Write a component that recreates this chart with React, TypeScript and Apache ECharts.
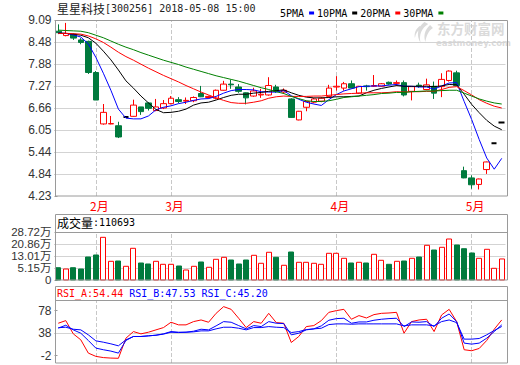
import React, { useEffect, useRef } from 'react';
import * as echarts from 'echarts';

// ---- data ----
const stockName = '星星科技';
const stockInfo = '[300256] 2018-05-08 15:00';
const monthCounts: [number, number][] = [[1, 5], [2, 10], [3, 22], [4, 18], [5, 5]];

const opens = [8.78, 8.66, 8.70, 8.54, 8.50, 7.64, 6.22, 6.22, 6.17, 6.41,
  6.43, 6.69, 6.80, 6.59, 6.66, 6.78, 6.89, 6.85, 6.86, 7.06,
  6.95, 6.93, 7.15, 7.32, 7.24, 7.08, 6.99, 7.02, 7.02, 7.24,
  7.10, 6.91, 6.33, 6.68, 6.82, 6.85, 6.98, 7.24, 7.21, 7.33,
  7.07, 7.27, 7.26, 7.26, 7.37, 7.34, 7.36, 7.12, 7.29, 7.17,
  7.26, 7.25, 7.42, 7.63, 4.93, 4.73, 4.55, 4.96, 5.69, 6.26];
const closes = [8.74, 8.72, 8.59, 8.47, 7.64, 6.88, 6.54, 6.23, 5.86, 6.41,
  6.74, 6.56, 6.65, 6.69, 6.78, 6.93, 6.84, 6.87, 6.95, 6.97,
  6.98, 7.15, 7.32, 7.30, 7.12, 6.94, 7.13, 7.04, 7.28, 7.12,
  7.15, 6.40, 6.57, 6.84, 6.91, 6.93, 7.21, 7.26, 7.33, 7.21,
  7.26, 7.25, 7.28, 7.33, 7.32, 7.36, 7.02, 7.25, 7.27, 7.30,
  7.07, 7.45, 7.68, 7.28, 4.73, 4.54, 4.70, 5.17, 5.69, 6.26];
const lows = [8.70, 8.64, 8.54, 8.42, 7.60, 6.88, 6.20, 6.21, 5.83, 6.41,
  6.42, 6.47, 6.59, 6.57, 6.63, 6.76, 6.79, 6.77, 6.82, 6.96,
  6.92, 6.90, 7.14, 7.19, 7.08, 6.76, 6.97, 6.94, 7.00, 7.08,
  7.05, 6.39, 6.32, 6.57, 6.79, 6.82, 6.97, 7.14, 7.14, 7.20,
  7.05, 7.14, 7.24, 7.25, 7.30, 7.27, 6.98, 6.87, 7.22, 7.15,
  6.91, 6.96, 7.39, 7.27, 4.72, 4.43, 4.41, 4.84, 5.69, 6.26];
const highs = [8.97, 9.01, 8.72, 8.59, 8.52, 7.68, 6.77, 6.44, 6.28, 6.41,
  6.89, 6.69, 6.82, 6.91, 6.88, 6.99, 6.96, 6.95, 6.98, 7.27,
  7.00, 7.17, 7.41, 7.44, 7.32, 7.09, 7.22, 7.19, 7.51, 7.30,
  7.20, 6.93, 6.58, 6.86, 6.94, 6.96, 7.30, 7.54, 7.38, 7.42,
  7.27, 7.30, 7.57, 7.35, 7.39, 7.42, 7.42, 7.26, 7.36, 7.47,
  7.39, 7.62, 7.70, 7.69, 5.04, 4.80, 4.71, 5.18, 5.69, 6.26];

const ma5 = [8.73, 8.72, 8.68, 8.62, 8.43, 8.06, 7.62, 7.15, 6.63, 6.38,
  6.36, 6.36, 6.44, 6.61, 6.68, 6.72, 6.78, 6.82, 6.87, 6.91,
  6.92, 6.98, 7.07, 7.14, 7.17, 7.17, 7.16, 7.11, 7.10, 7.10,
  7.14, 7.00, 6.90, 6.82, 6.77, 6.73, 6.89, 7.03, 7.13, 7.19,
  7.25, 7.26, 7.27, 7.27, 7.29, 7.31, 7.26, 7.26, 7.24, 7.24,
  7.18, 7.27, 7.35, 7.36, 6.84, 6.34, 5.79, 5.28, 4.97, 5.27];
const ma10 = [8.73, 8.72, 8.70, 8.67, 8.60, 8.45, 8.23, 7.99, 7.71, 7.41,
  7.21, 6.99, 6.80, 6.62, 6.53, 6.54, 6.57, 6.63, 6.74, 6.80,
  6.82, 6.88, 6.95, 7.01, 7.04, 7.04, 7.07, 7.09, 7.12, 7.14,
  7.16, 7.08, 7.01, 6.96, 6.94, 6.94, 6.95, 6.97, 6.97, 6.98,
  6.99, 7.08, 7.15, 7.20, 7.24, 7.28, 7.26, 7.26, 7.26, 7.26,
  7.25, 7.27, 7.31, 7.30, 7.04, 6.76, 6.53, 6.32, 6.16, 6.06];
const ma20 = [8.72, 8.72, 8.71, 8.70, 8.65, 8.57, 8.47, 8.34, 8.20, 8.08,
  7.98, 7.87, 7.76, 7.66, 7.56, 7.47, 7.38, 7.28, 7.19, 7.10,
  7.02, 6.94, 6.87, 6.81, 6.79, 6.79, 6.82, 6.86, 6.93, 6.97,
  6.99, 6.98, 6.98, 6.98, 6.99, 6.99, 7.01, 7.03, 7.05, 7.06,
  7.07, 7.08, 7.08, 7.08, 7.09, 7.11, 7.10, 7.11, 7.11, 7.12,
  7.12, 7.17, 7.23, 7.25, 7.14, 7.02, 6.89, 6.79, 6.71, 6.66];
const ma30 = [8.81, 8.80, 8.79, 8.78, 8.74, 8.67, 8.60, 8.51, 8.42, 8.34,
  8.27, 8.19, 8.12, 8.05, 7.98, 7.92, 7.86, 7.79, 7.73, 7.67,
  7.61, 7.55, 7.50, 7.45, 7.40, 7.34, 7.28, 7.22, 7.17, 7.11,
  7.06, 6.98, 6.92, 6.86, 6.84, 6.84, 6.86, 6.90, 6.95, 6.97,
  6.99, 7.01, 7.03, 7.06, 7.07, 7.09, 7.09, 7.11, 7.12, 7.13,
  7.13, 7.14, 7.15, 7.15, 7.07, 6.99, 6.91, 6.85, 6.80, 6.77];

// volume in 万 (10k lots)
const volumes = [5.34, 4.49, 5.34, 4.49, 12.35, 13.66, 25.24, 9.53, 9.73, 6.26,
  18.04, 8.42, 7.77, 9.53, 7.57, 7.57, 6.46, 3.84, 6.26, 9.08,
  5.61, 10.84, 12.15, 10.38, 7.77, 10.38, 13.46, 8.23, 15.43, 12.15,
  6.92, 15.62, 8.88, 8.88, 8.23, 7.57, 14.77, 14.77, 11.50, 8.42,
  8.88, 8.42, 14.12, 10.19, 7.57, 9.53, 9.73, 11.50, 12.35, 20.01,
  16.93, 18.70, 24.13, 20.20, 17.78, 14.97, 11.50, 17.39, 4.95, 11.0693];
const lastVolume = 110693;

const rsiA = [49.8, 53.5, 34.9, 26.5, 7.9, 3.3, 1.6, 0.9, 0.6, 28.8,
  38.1, 34.9, 37.2, 40.5, 43.7, 51.2, 47.5, 47.5, 52.1, 54.4,
  51.2, 63.7, 73.1, 69.3, 56.8, 43.7, 52.1, 49.8, 63.7, 50.7,
  49.8, 22.8, 31.2, 45.1, 46.5, 53.5, 65.1, 67.5, 69.3, 55.4,
  60.5, 57.2, 61.9, 63.7, 64.2, 65.1, 35.8, 52.1, 54.4, 55.4,
  38.1, 61.4, 69.3, 52.1, 12.6, 11.2, 14.4, 25.6, 41.4, 54.44];
const rsiB = [43.0, 47.0, 40.5, 35.8, 25.6, 14.9, 12.6, 10.7, 7.9, 25.6,
  31.2, 31.2, 32.1, 33.0, 34.9, 38.1, 37.2, 37.2, 38.6, 41.4,
  40.5, 46.1, 52.1, 51.2, 46.5, 41.9, 46.5, 45.1, 52.1, 49.8,
  49.3, 33.5, 35.8, 40.5, 41.9, 46.1, 54.0, 56.3, 56.8, 49.8,
  51.6, 51.6, 54.0, 55.4, 56.3, 56.8, 45.1, 51.6, 51.2, 52.1,
  45.1, 56.8, 62.8, 52.1, 21.9, 20.5, 21.9, 28.8, 38.1, 47.53];
const rsiC = [43.5, 44.2, 41.4, 40.5, 33.5, 25.1, 23.2, 20.9, 18.1, 26.5,
  31.2, 31.2, 32.1, 33.0, 34.5, 37.2, 36.7, 37.2, 37.7, 39.1,
  39.1, 41.9, 44.2, 44.2, 42.8, 40.5, 43.7, 43.7, 45.1, 44.2,
  43.7, 36.7, 38.1, 40.9, 41.9, 42.8, 47.9, 48.9, 48.9, 48.4,
  48.9, 48.9, 48.9, 48.9, 48.9, 48.9, 46.1, 47.5, 47.5, 47.5,
  46.1, 52.1, 54.4, 50.7, 27.5, 27.5, 28.4, 33.5, 39.6, 45.20];

const priceTicks = [4.23, 4.84, 5.44, 6.05, 6.66, 7.27, 7.88, 8.48, 9.09];
const volTicks = [-2.71, 5.15, 13.01, 20.86, 28.72];
const rsiTicks = [-2, 38, 78];
const maNames = ['5PMA', '10PMA', '20PMA', '30PMA'];

// ---- styles ----
const RED = '#ff0000';
const GREEN = '#007a3d';
const BLUE = '#0000ff';
const BORDER = '#9a9a9a';
const GRIDLINE = '#d3d3d3';
const WATER = '#dadada';
const SANS = 'Liberation Sans, Noto Sans CJK SC, sans-serif';
const MONO = 'DejaVu Sans Mono, monospace';
const CJK = 'Noto Sans CJK SC, sans-serif';

echarts.graphic.registerShape(
  'emLogo',
  echarts.graphic.extendPath(
    'M12 0 C5 5 3 13 8 21 C6 13 9 6 16 2 Z M18 3 C12 8 11 14 13 20 C14 14 16 9 21 6 Z M7 4 C3 7 1 11 2 16 C3 11 5 8 9 6 Z',
    {}
  )
);

const categories: string[] = [];
monthCounts.forEach(([m, n]) => {
  for (let k = 1; k <= n; k++) categories.push(`${m}-${k}`);
});
const monthStarts = categories.filter((c) => c.endsWith('-1') && !c.startsWith('1-'));

const isUp = (i: number) =>
  closes[i] > opens[i] || (closes[i] === opens[i] && (i === 0 || closes[i] >= closes[i - 1]));
const isFlat = (i: number) => opens[i] === closes[i] && highs[i] === lows[i];

const GL = 54.5;
const GW = 451;

function buildOption(): any {
  const monthLines = monthStarts.map((c) => ({
    xAxis: c,
    lineStyle: { type: 'dashed', color: '#c8c8c8', width: 1 },
  }));
  const hLines = (vals: number[]) =>
    vals.map((v) => ({ yAxis: v, lineStyle: { type: 'solid', color: GRIDLINE, width: 1 } }));
  const frame = (xi: number, yi: number, vals: number[]) => ({
    type: 'line',
    xAxisIndex: xi,
    yAxisIndex: yi,
    data: [],
    silent: true,
    z: 1,
    markLine: {
      silent: true,
      z: 1,
      symbol: ['none', 'none'],
      label: { show: false },
      animation: false,
      data: [...monthLines, ...hLines(vals)],
    },
  });
  const maLine = (name: string, data: number[], color: string) => ({
    name,
    type: 'line',
    xAxisIndex: 0,
    yAxisIndex: 0,
    data,
    color,
    showSymbol: false,
    symbol: 'none',
    z: 4,
    lineStyle: { width: 1, color },
  });
  const rsiLine = (data: number[], color: string) => ({
    type: 'line',
    xAxisIndex: 2,
    yAxisIndex: 3,
    data,
    showSymbol: false,
    symbol: 'none',
    z: 4,
    lineStyle: { width: 1, color },
  });
  const yLabel = {
    color: '#333',
    fontFamily: SANS,
    fontSize: 12,
    margin: 3,
  };
  const yTick = (vals: number[]) => ({
    show: true,
    inside: true,
    length: 3,
    customValues: vals,
    lineStyle: { color: BORDER },
  });
  const xHidden = (gi: number) => ({
    type: 'category',
    gridIndex: gi,
    data: categories,
    boundaryGap: true,
    axisLine: { show: false },
    axisTick: { show: false },
    axisLabel: { show: false },
    splitLine: { show: false },
  });

  return {
    animation: false,
    backgroundColor: '#fff',
    grid: [
      { left: GL, top: 20, width: GW, height: 176 },
      { left: GL, top: 232, width: GW, height: 48 },
      { left: GL, top: 301, width: GW, height: 62 },
    ],
    legend: {
      data: maNames,
      left: 275,
      top: 3,
      icon: 'rect',
      itemWidth: 5,
      itemHeight: 3,
      itemGap: 3,
      align: 'right',
      selectedMode: false,
      textStyle: { fontFamily: MONO, fontSize: 10, color: '#000' },
    },
    xAxis: [
      {
        type: 'category',
        gridIndex: 0,
        data: categories,
        boundaryGap: true,
        axisLine: { show: false },
        axisTick: { show: false },
        splitLine: { show: false },
        axisLabel: {
          interval: 0,
          color: RED,
          fontFamily: CJK,
          fontSize: 12,
          lineHeight: 12,
          margin: 3,
          padding: [0, 0, 0, 7],
          formatter: (v: string) => {
            const [m, k] = v.split('-');
            return k === '1' && m !== '1' ? `${m}月` : '';
          },
        },
      },
      xHidden(1),
      xHidden(2),
    ],
    yAxis: [
      {
        type: 'value',
        gridIndex: 0,
        min: priceTicks[0],
        max: priceTicks[priceTicks.length - 1],
        axisLine: { show: false },
        axisTick: yTick(priceTicks),
        splitLine: { show: false },
        axisLabel: { ...yLabel, lineHeight: 12, customValues: priceTicks, formatter: (v: number) => v.toFixed(2) },
      },
      {
        type: 'value',
        gridIndex: 1,
        min: volTicks[0],
        max: volTicks[volTicks.length - 1],
        axisLine: { show: false },
        axisTick: yTick(volTicks),
        splitLine: { show: false },
        axisLabel: {
          ...yLabel,
          fontSize: 11.5,
          lineHeight: 10,
          customValues: volTicks,
          formatter: (v: number) => (v <= volTicks[0] ? '0' : `${v.toFixed(2)}万`),
        },
      },
      {
        type: 'value',
        gridIndex: 2,
        min: -15,
        max: 95,
        axisLine: { show: false },
        axisTick: yTick(rsiTicks),
        splitLine: { show: false },
        axisLabel: { ...yLabel, lineHeight: 12, customValues: rsiTicks, formatter: (v: number) => `${v}` },
      },
      {
        type: 'value',
        gridIndex: 2,
        min: -6,
        max: 81,
        show: false,
        splitLine: { show: false },
      },
    ],
    series: [
      frame(0, 0, priceTicks.slice(1, -1)),
      frame(1, 1, volTicks.slice(1, -1)),
      frame(2, 2, [38]),
      {
        type: 'candlestick',
        xAxisIndex: 0,
        yAxisIndex: 0,
        barWidth: 6,
        z: 3,
        itemStyle: {
          color: '#ffffff',
          color0: GREEN,
          borderColor: RED,
          borderColor0: GREEN,
          borderWidth: 1,
        },
        data: opens.map((o, i) => {
          const v = [o, closes[i], lows[i], highs[i]];
          if (isFlat(i)) {
            return {
              value: v,
              itemStyle: { color: '#000', color0: '#000', borderColor: '#000', borderColor0: '#000', borderColorDoji: '#000', borderWidth: 2 },
            };
          }
          return v;
        }),
      },
      maLine(maNames[0], ma5, BLUE),
      maLine(maNames[1], ma10, '#000000'),
      maLine(maNames[2], ma20, RED),
      maLine(maNames[3], ma30, '#008000'),
      {
        type: 'custom',
        xAxisIndex: 1,
        yAxisIndex: 1,
        z: 3,
        encode: { x: 0, y: 1 },
        data: volumes.map((v, i) => [i, v, isUp(i) ? 1 : 0]),
        renderItem: (params: any, api: any) => {
          const i = api.value(0);
          const v = api.value(1);
          const up = api.value(2) === 1;
          const top = api.coord([i, v]);
          const base = api.coord([i, volTicks[0]]);
          const w = 6;
          const x = Math.round(top[0] - w / 2) + 0.5;
          return {
            type: 'rect',
            shape: { x, y: top[1], width: w - 1, height: base[1] - top[1] },
            style: up
              ? { fill: '#ffffff', stroke: RED, lineWidth: 1 }
              : { fill: GREEN, stroke: GREEN, lineWidth: 1 },
          };
        },
      },
      rsiLine(rsiA, RED),
      rsiLine(rsiB, BLUE),
      rsiLine(rsiC, BLUE),
    ],
    graphic: [
      {
        type: 'text',
        left: 57,
        top: 2,
        style: {
          text: `{a|${stockName}}{b|${stockInfo}}`,
          rich: {
            a: { fontFamily: CJK, fontSize: 12, fill: '#222' },
            b: { fontFamily: MONO, fontSize: 10, fill: '#222' },
          },
        },
      },
      {
        type: 'group',
        z: 0,
        children: [
          {
            type: 'emLogo',
            x: 413,
            y: 22,
            scaleX: 0.95,
            scaleY: 1,
            style: { fill: WATER, stroke: 'none' },
          },
          {
            type: 'text',
            x: 437,
            y: 21,
            style: { text: '东方财富网', fontFamily: CJK, fontSize: 13.5, lineHeight: 14, fontWeight: 'bold', fill: WATER },
          },
          {
            type: 'text',
            x: 436,
            y: 39,
            style: { text: 'eastmoney.com', fontFamily: 'DejaVu Sans, sans-serif', fontSize: 8.5, lineHeight: 8, fontWeight: 'bold', fill: WATER },
          },
        ],
      },
      // panel frames
      { type: 'rect', z: 10, shape: { x: 55.5, y: 20.5, width: 452, height: 175.5 }, style: { fill: 'none', stroke: BORDER, lineWidth: 1 } },
      { type: 'rect', z: 10, shape: { x: 55.5, y: 214.5, width: 452, height: 65.5 }, style: { fill: 'none', stroke: BORDER, lineWidth: 1 } },
      { type: 'line', z: 10, shape: { x1: 55.5, y1: 232.5, x2: 507.5, y2: 232.5 }, style: { stroke: BORDER, lineWidth: 1 } },
      { type: 'rect', z: 10, shape: { x: 55.5, y: 286.5, width: 452, height: 76.5 }, style: { fill: 'none', stroke: BORDER, lineWidth: 1 } },
      { type: 'line', z: 10, shape: { x1: 55.5, y1: 300.5, x2: 507.5, y2: 300.5 }, style: { stroke: BORDER, lineWidth: 1 } },
      {
        type: 'text',
        left: 57,
        top: 216,
        style: {
          text: `{a|成交量}{b|:${lastVolume}}`,
          rich: {
            a: { fontFamily: CJK, fontSize: 12, fill: '#000' },
            b: { fontFamily: MONO, fontSize: 10, fill: '#000' },
          },
        },
      },
      {
        type: 'text',
        left: 57,
        top: 288,
        style: {
          text: `{r|RSI_A:${rsiA[rsiA.length - 1].toFixed(2)} }{b|RSI_B:${rsiB[rsiB.length - 1].toFixed(2)} RSI_C:${rsiC[rsiC.length - 1].toFixed(2)}}`,
          rich: {
            r: { fontFamily: MONO, fontSize: 10, fill: RED },
            b: { fontFamily: MONO, fontSize: 10, fill: BLUE },
          },
        },
      },
    ],
  };
}

export default function App() {
  const ref = useRef<HTMLDivElement>(null);
  useEffect(() => {
    if (!ref.current) return;
    const chart = echarts.init(ref.current, null, { renderer: 'svg' });
    chart.setOption(buildOption());
    return () => chart.dispose();
  }, []);
  return (
    <div
      ref={ref}
      style={{ position: 'fixed', left: 0, top: 0, width: 520, height: 365, background: '#fff' }}
    />
  );
}
